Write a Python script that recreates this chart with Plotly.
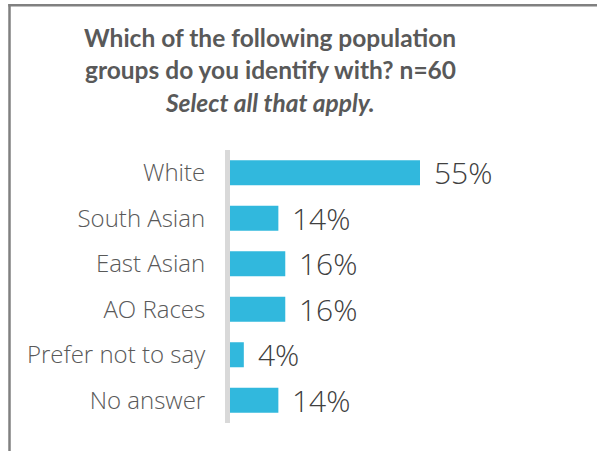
import plotly.graph_objects as go

# Survey responses (percent of respondents, n=60, multi-select)
categories = ["White", "South Asian", "East Asian", "AO Races", "Prefer not to say", "No answer"]
values = [55, 14, 16, 16, 4, 14]
value_labels = ["55%", "14%", "16%", "16%", "4%", "14%"]

title_lines = [
    "<b>Which of the following population</b>",
    "<b>groups do you identify with? n=60</b>",
    "<b><i>Select all that apply.</i></b>",
]

W, H = 597, 451
ML, MR, MT, MB = 230, 22, 150, 28
PW, PH = W - ML - MR, H - MT - MB
PX_PER_PCT = 190 / 55  # horizontal scale of the bars


def px2x(px):
    return (px - ML) / PW


def py2y(py):
    return (H - MB - py) / PH


BAR = "#31B8DD"
LABEL = "#595959"
VALUE = "#404040"
FONT = "Open Sans"

fig = go.Figure(
    go.Bar(
        x=values,
        y=categories,
        orientation="h",
        marker=dict(color=BAR, line=dict(width=0)),
        width=0.55,
        hoverinfo="skip",
    )
)

# value labels to the right of each bar
for c, v, t in zip(categories, values, value_labels):
    fig.add_annotation(
        x=v, y=c, xref="x", yref="y", text=t, showarrow=False,
        xanchor="left", yanchor="middle", xshift=12, yshift=0,
        font=dict(family=FONT, size=30, color=VALUE, weight=300),
    )

# title, one line per annotation
title_y = [38, 70, 103]
for txt, ty in zip(title_lines, title_y):
    fig.add_annotation(
        x=px2x(270), y=py2y(ty), xref="paper", yref="paper", text=txt,
        showarrow=False, xanchor="center", yanchor="middle",
        font=dict(family="Lato", size=24.5, color=LABEL),
    )

# frame on the left and top edges
frame = dict(color="#808080", width=2.5)
fig.add_shape(type="line", xref="paper", yref="paper",
              x0=px2x(9.5), x1=px2x(9.5), y0=py2y(4), y1=py2y(460), line=frame)
fig.add_shape(type="line", xref="paper", yref="paper",
              x0=px2x(8.3), x1=px2x(610), y0=py2y(5.3), y1=py2y(5.3), line=frame)

fig.update_layout(
    width=W, height=H,
    margin=dict(l=ML, r=MR, t=MT, b=MB, pad=0),
    paper_bgcolor="white", plot_bgcolor="white",
    showlegend=False,
    bargap=0.45,
    xaxis=dict(range=[0, PW / PX_PER_PCT], visible=False, fixedrange=True),
    yaxis=dict(
        autorange="reversed",
        showline=True, linewidth=5, linecolor="#D9D9D9",
        showgrid=False, zeroline=False,
        ticks="outside", ticklen=15, tickcolor="rgba(0,0,0,0)",
        tickfont=dict(family=FONT, size=24, color=LABEL, weight=300),
        fixedrange=True,
    ),
)

fig.write_html("out.html")
